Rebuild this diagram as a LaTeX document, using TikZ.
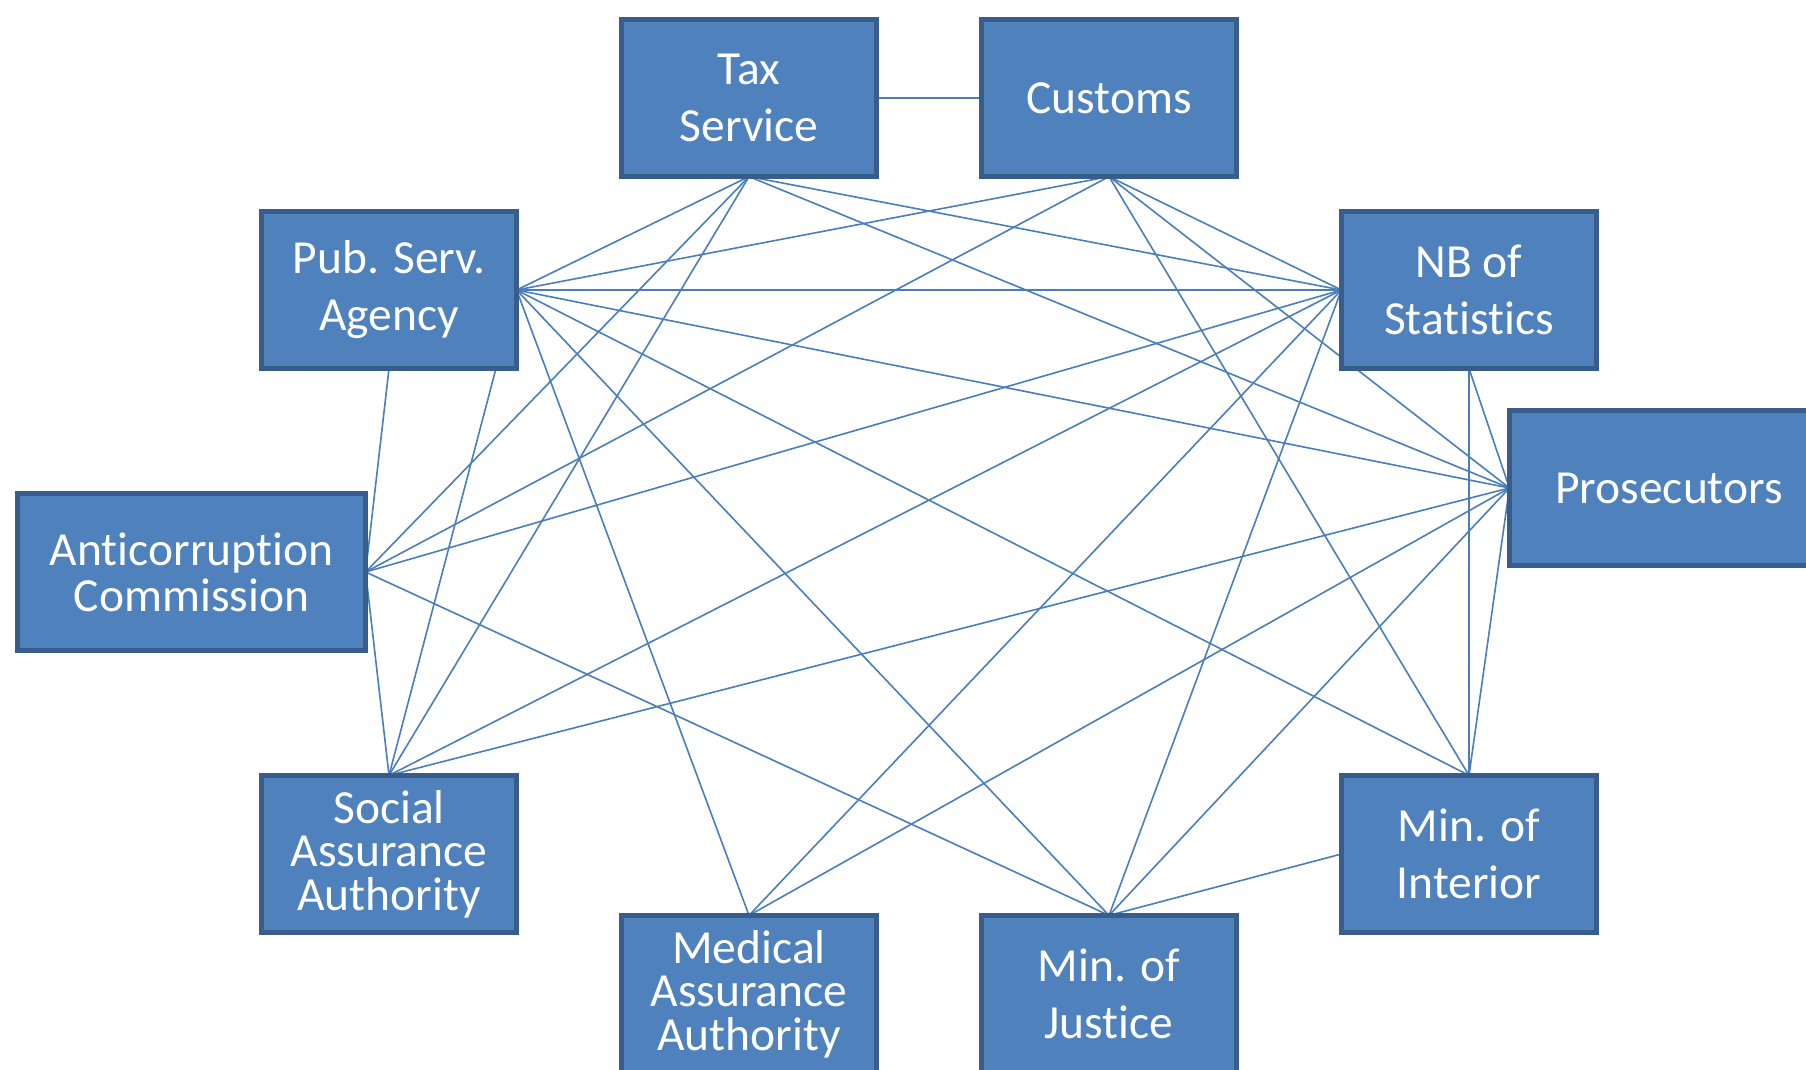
\documentclass[tikz,border=0pt]{standalone}
\usepackage{fontspec}
\setmainfont{Carlito}[Ligatures=NoCommon]
\usetikzlibrary{backgrounds}
\definecolor{boxfill}{HTML}{4F81BD}
\definecolor{boxline}{HTML}{385D8A}
\definecolor{linkc}{HTML}{4A7EBB}
\begin{document}
\begin{tikzpicture}[x=1pt,y=-1pt,
  box/.style={draw=boxline, line width=4.8pt, fill=boxfill, text=white, align=center,
    inner sep=0pt, outer sep=0pt, minimum width=255.2pt, minimum height=157.2pt,
    font=\fontsize{47.5}{57}\selectfont},
  three/.style={font=\fontsize{47.5}{43.5}\selectfont},
  link/.style={draw=linkc, line width=1.6pt}]
\useasboundingbox (0,0) rectangle (1806,1070);
\clip (0,0) rectangle (1806,1070);
\node[box] (tax) at (749,98) {Tax\\Service};
\node[box] (cus) at (1109,98) {Customs};
\node[box] (pub) at (389,290) {Pub. Serv.\\Agency};
\node[box] (nbs) at (1469,290) {NB of\\Statistics};
\node[box, minimum width=319.2pt, minimum height=155.2pt] (pros) at (1669,488) {Prosecutors};
\node[box, minimum width=348.2pt, font=\fontsize{47.5}{46}\selectfont] (anti) at (191.5,572) {Anticorruption\\Commission};
\node[box, three] (soc) at (389,854) {Social\\Assurance\\Authority};
\node[box] (inter) at (1469,854) {Min. of\\Interior};
\node[box, three] (med) at (749,994) {Medical\\Assurance\\Authority};
\node[box] (jus) at (1109,994) {Min. of\\Justice};
\begin{scope}[on background layer]
  \draw[link] (tax.east) -- (cus.west);
  \foreach \b in {pub.east, anti.east, soc.north, nbs.west, pros.west}
    \draw[link] (tax.south) -- (\b);
  \foreach \b in {pub.east, anti.east, nbs.west, pros.west, inter.north}
    \draw[link] (cus.south) -- (\b);
  \foreach \b in {nbs.west, pros.west, inter.north, jus.north, med.north, soc.north}
    \draw[link] (pub.east) -- (\b);
  \draw[link] (pub.south) -- (anti.east);
  \foreach \b in {anti.east, soc.north, med.north, jus.north}
    \draw[link] (nbs.west) -- (\b);
  \draw[link] (nbs.south) -- (pros.west);
  \draw[link] (nbs.south) -- (inter.north);
  \foreach \b in {soc.north, med.north, jus.north, inter.north}
    \draw[link] (pros.west) -- (\b);
  \draw[link] (anti.east) -- (jus.north);
  \draw[link] (anti.east) -- (soc.north);
  \draw[link] (inter.west) -- (jus.north);
\end{scope}
\end{tikzpicture}
\end{document}
